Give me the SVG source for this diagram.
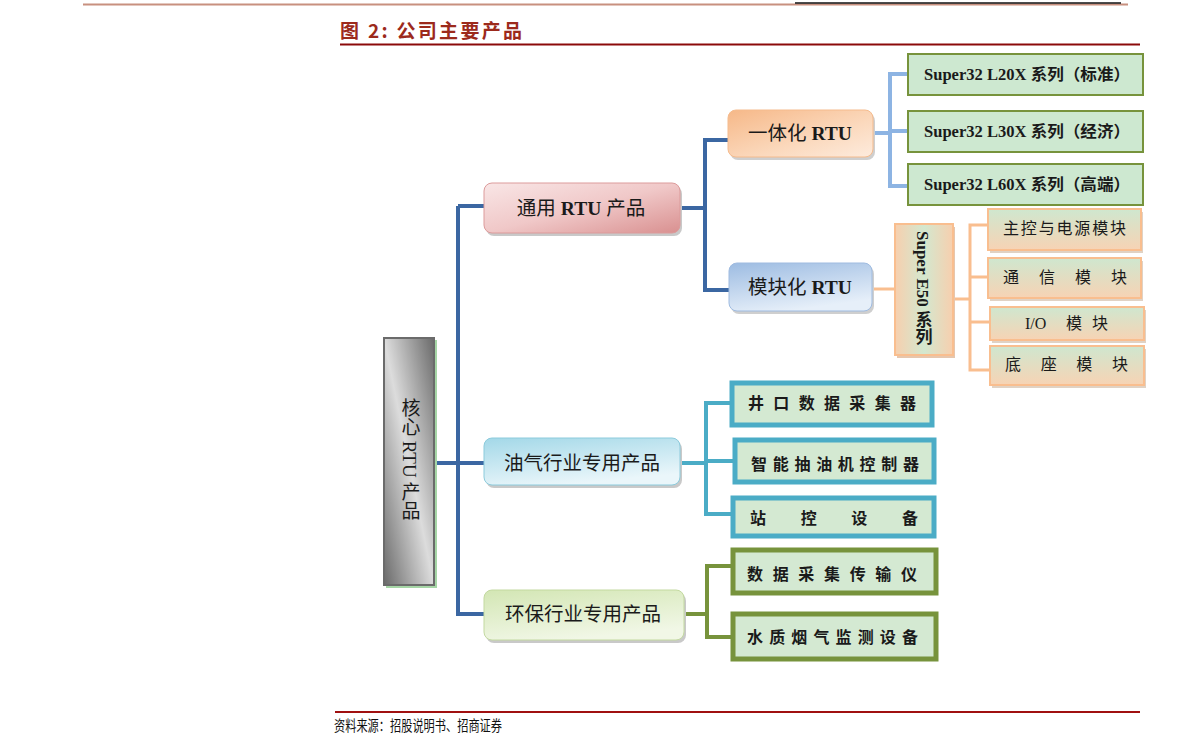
<svg xmlns="http://www.w3.org/2000/svg" width="1191" height="755" viewBox="0 0 1191 755">
<style>
.t{font-family:"Liberation Serif","Noto Sans CJK SC",serif;fill:#1a1a1a}
.n{font-size:19.5px}
.g{font-size:16px;font-weight:bold}
.m{font-size:16px}
.v{writing-mode:vertical-rl;text-orientation:mixed}
.c{fill:none;stroke-linejoin:miter}
</style>
<defs>
<linearGradient id="gPink" x1="0" y1="0" x2="1" y2="1"><stop offset="0" stop-color="#f9e6e6"/><stop offset="0.5" stop-color="#f0c8c8"/><stop offset="1" stop-color="#d99090"/></linearGradient>
<linearGradient id="gOr" x1="0" y1="0" x2="1" y2="1"><stop offset="0" stop-color="#f6b888"/><stop offset="0.6" stop-color="#fbd9bd"/><stop offset="1" stop-color="#fdebdd"/></linearGradient>
<linearGradient id="gBl" x1="0" y1="0" x2="0.4" y2="1"><stop offset="0" stop-color="#9dbce2"/><stop offset="1" stop-color="#e6eff9"/></linearGradient>
<linearGradient id="gCy" x1="0" y1="0" x2="0.4" y2="1"><stop offset="0" stop-color="#a3d8e8"/><stop offset="1" stop-color="#eaf6fa"/></linearGradient>
<linearGradient id="gGr" x1="0" y1="0" x2="0.4" y2="1"><stop offset="0" stop-color="#d3e6b4"/><stop offset="1" stop-color="#f1f7e6"/></linearGradient>
<linearGradient id="gCore" x1="1" y1="0" x2="0" y2="1"><stop offset="0" stop-color="#6a6a6a"/><stop offset="0.5" stop-color="#dcdcdc"/><stop offset="1" stop-color="#6a6a6a"/></linearGradient>
<linearGradient id="gMod" x1="0" y1="0" x2="0" y2="1"><stop offset="0" stop-color="#cfe7cf"/><stop offset="1" stop-color="#f7d3b4"/></linearGradient>
<linearGradient id="gE50" x1="0" y1="0" x2="1" y2="0"><stop offset="0" stop-color="#f7cfae"/><stop offset="0.5" stop-color="#d3e8cf"/><stop offset="1" stop-color="#f7cfae"/></linearGradient>
</defs>

<!-- header / footer -->
<line x1="83" y1="4.5" x2="1128" y2="4.5" stroke="#c8907f" stroke-width="2"/>
<line x1="795" y1="3" x2="1121" y2="3" stroke="#111" stroke-width="1.5"/>
<text x="340" y="38" font-family="'Noto Sans CJK SC',sans-serif" font-size="19" font-weight="bold" fill="#9c2a1c" textLength="182" lengthAdjust="spacing">图 2:  公司主要产品</text>
<line x1="340" y1="44.5" x2="1140" y2="44.5" stroke="#8b0a0a" stroke-width="2"/>
<line x1="335" y1="712" x2="1140" y2="712" stroke="#a01010" stroke-width="2"/>
<text x="334" y="731" font-family="'Noto Sans CJK SC',sans-serif" font-size="14.5" fill="#111" textLength="168" lengthAdjust="spacingAndGlyphs">资料来源：招股说明书、招商证券</text>

<!-- connectors -->
<g id="connectors" class="c">
<path d="M458 206 H484 M458 206 V614 H484 M434 463 H484" stroke="#3b67a2" stroke-width="4"/>
<path d="M680 208 H705 M728 140 H705 V290 H729" stroke="#3b67a2" stroke-width="4"/>
<path d="M873 133 H890 M908 74 H890 V186 H908 M890 131 H908" stroke="#8db4e3" stroke-width="4"/>
<path d="M872 289 H895" stroke="#f9be8f" stroke-width="3"/>
<path d="M953 299 H970 M988 225 H970 V370 H990 M970 277 H988 M970 322 H990" stroke="#f9be8f" stroke-width="3"/>
<path d="M680 463 H706 M730 403 H706 V514 H731 M706 461 H733" stroke="#4bacc6" stroke-width="4"/>
<path d="M684 614 H707 M731 566 H707 V637 H731" stroke="#77933c" stroke-width="4"/>
</g>

<!-- core -->
<g id="core">
<rect x="386" y="340" width="51" height="248" fill="#a6d6a6"/>
<rect x="384" y="338" width="50" height="247" fill="url(#gCore)" stroke="#6b6b6b" stroke-width="2"/>
<text class="t v" x="409" y="398" font-size="19">核心 RTU 产品</text>
</g>

<!-- level 1 -->
<g id="n-tongyong">
<rect x="486" y="186" width="196" height="50" rx="8" fill="#c9c9c9"/>
<rect x="484" y="183" width="196" height="50" rx="8" fill="url(#gPink)" stroke="#dc9b9b" stroke-width="1"/>
<text class="t n" x="581" y="215" text-anchor="middle">通用 <tspan font-weight="bold">RTU</tspan> 产品</text>
</g>
<g id="n-youqi">
<rect x="486" y="441" width="196" height="47" rx="8" fill="#c9c9c9"/>
<rect x="484" y="438" width="196" height="47" rx="8" fill="url(#gCy)" stroke="#8ccbdc" stroke-width="1"/>
<text class="t n" x="582" y="470" text-anchor="middle">油气行业专用产品</text>
</g>
<g id="n-huanbao">
<rect x="486" y="593" width="200" height="50" rx="8" fill="#c9c9c9"/>
<rect x="484" y="590" width="200" height="50" rx="8" fill="url(#gGr)" stroke="#c3d9a0" stroke-width="1"/>
<text class="t n" x="583" y="621" text-anchor="middle">环保行业专用产品</text>
</g>

<!-- level 2 -->
<g id="n-yitihua">
<rect x="730" y="113" width="145" height="47" rx="8" fill="#cfcfcf"/>
<rect x="728" y="110" width="145" height="47" rx="8" fill="url(#gOr)" stroke="#f5bb8d" stroke-width="1"/>
<text class="t n" x="800" y="140" text-anchor="middle">一体化 <tspan font-weight="bold">RTU</tspan></text>
</g>
<g id="n-mokuaihua">
<rect x="731" y="266" width="143" height="48" rx="8" fill="#cfcfcf"/>
<rect x="729" y="263" width="143" height="48" rx="8" fill="url(#gBl)" stroke="#9fbbe0" stroke-width="1"/>
<text class="t n" x="800" y="294" text-anchor="middle">模块化 <tspan font-weight="bold">RTU</tspan></text>
</g>

<!-- Super32 series -->
<g id="n-l20x">
<rect x="908" y="54" width="235" height="41" fill="#cde8d0" stroke="#77933c" stroke-width="2"/>
<text class="t g" x="924" y="80" textLength="206" lengthAdjust="spacingAndGlyphs">Super32 L20X 系列（标准）</text>
</g>
<g id="n-l30x">
<rect x="908" y="111" width="235" height="41" fill="#cde8d0" stroke="#77933c" stroke-width="2"/>
<text class="t g" x="924" y="137" textLength="206" lengthAdjust="spacingAndGlyphs">Super32 L30X 系列（经济）</text>
</g>
<g id="n-l60x">
<rect x="908" y="164" width="235" height="41" fill="#cde8d0" stroke="#77933c" stroke-width="2"/>
<text class="t g" x="924" y="190" textLength="206" lengthAdjust="spacingAndGlyphs">Super32 L60X 系列（高端）</text>
</g>

<!-- Super E50 -->
<g id="n-e50">
<rect x="897" y="227" width="58" height="131" fill="#e6c6ad"/>
<rect x="895" y="224" width="58" height="131" fill="url(#gE50)" stroke="#f9be8f" stroke-width="2"/>
<text class="t v" x="922" y="231" font-size="17" font-weight="bold">Super E50 系列</text>
</g>
<g id="n-zhukong">
<rect x="990" y="212" width="153" height="41" fill="#e0d2c4"/>
<rect x="988" y="209" width="153" height="41" fill="url(#gMod)" stroke="#f9be8f" stroke-width="2"/>
<text class="t m" x="1003" y="234" textLength="123" lengthAdjust="spacing">主控与电源模块</text>
</g>
<g id="n-tongxin">
<rect x="990" y="261" width="153" height="40" fill="#e0d2c4"/>
<rect x="988" y="258" width="153" height="40" fill="url(#gMod)" stroke="#f9be8f" stroke-width="2"/>
<text class="t m" x="1003" y="283" textLength="124" lengthAdjust="spacing">通信模块</text>
</g>
<g id="n-io">
<rect x="992" y="310" width="154" height="33" fill="#e0d2c4"/>
<rect x="990" y="307" width="154" height="33" fill="url(#gMod)" stroke="#f9be8f" stroke-width="2"/>
<text class="t m" x="1025" y="329">I/O<tspan x="1066">模</tspan><tspan x="1092">块</tspan></text>
</g>
<g id="n-dizuo">
<rect x="992" y="349" width="154" height="39" fill="#e0d2c4"/>
<rect x="990" y="346" width="154" height="39" fill="url(#gMod)" stroke="#f9be8f" stroke-width="2"/>
<text class="t m" x="1005" y="370" textLength="123" lengthAdjust="spacing">底座模块</text>
</g>

<!-- oil & gas products -->
<g id="n-jingkou">
<rect x="732" y="383" width="200" height="42" fill="#d4e9d2" stroke="#4bacc6" stroke-width="5"/>
<text class="t m" x="748" y="409" textLength="168" lengthAdjust="spacing" font-weight="bold">井口数据采集器</text>
</g>
<g id="n-zhineng">
<rect x="735" y="440" width="199" height="42" fill="#d4e9d2" stroke="#4bacc6" stroke-width="5"/>
<text class="t m" x="751" y="470" textLength="168" lengthAdjust="spacing" font-weight="bold">智能抽油机控制器</text>
</g>
<g id="n-zhankong">
<rect x="733" y="498" width="201" height="38" fill="#d4e9d2" stroke="#4bacc6" stroke-width="5"/>
<text class="t m" x="750" y="524" textLength="168" lengthAdjust="spacing" font-weight="bold">站控设备</text>
</g>

<!-- env products -->
<g id="n-shuju">
<rect x="733" y="550" width="203" height="43" fill="#d4e9d2" stroke="#77933c" stroke-width="5"/>
<text class="t m" x="747" y="580" textLength="170" lengthAdjust="spacing" font-weight="bold">数据采集传输仪</text>
</g>
<g id="n-shuizhi">
<rect x="733" y="614" width="203" height="45" fill="#d4e9d2" stroke="#77933c" stroke-width="5"/>
<text class="t m" x="747" y="643" textLength="171" lengthAdjust="spacing" font-weight="bold">水质烟气监测设备</text>
</g>
</svg>
